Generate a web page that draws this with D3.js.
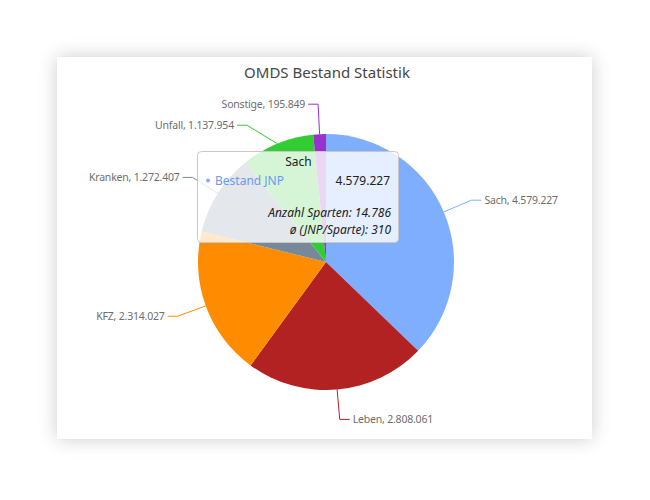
<!DOCTYPE html>
<html>
<head>
<meta charset="utf-8">
<script src="https://cdn.jsdelivr.net/npm/d3@7"></script>
<style>
  html, body { margin: 0; padding: 0; background: #fff; }
  body { width: 650px; height: 500px; position: relative; overflow: hidden; font-family: "Noto Sans", "Open Sans", sans-serif; }
  #card { position: absolute; left: 57px; top: 57px; width: 535px; height: 382px; background: #fff; box-shadow: 0 0 18px rgba(0,0,0,0.2); }
  svg { position: absolute; left: 0; top: 0; }
</style>
</head>
<body>
<div id="card"></div>
<svg id="chart" width="650" height="500"></svg>
<script>
const title = "OMDS Bestand Statistik";
const categories = ["Sach", "Leben", "KFZ", "Kranken", "Unfall", "Sonstige"];
const values = [4579227, 2808061, 2314027, 1272407, 1137954, 195849];
const colors = ["#7faeff", "#b22222", "#ff8c00", "#778899", "#32cd32", "#9932cc"];
const seriesName = "Bestand JNP";
const tooltipCategory = "Sach";
const tooltipSparten = 14786;
const tooltipAvg = 310;

const de = d3.formatLocale({ decimal: ",", thousands: ".", grouping: [3], currency: ["", " €"] });
const fmt = de.format(",d");

const svg = d3.select("#chart");
const cx = 326, cy = 262, R = 128;
const lineLen1 = 30, lineLen2 = 10;

svg.append("text")
  .attr("x", 327).attr("y", 78)
  .attr("text-anchor", "middle")
  .attr("font-size", 15)
  .attr("fill", "#464646")
  .text(title);

const data = categories.map((c, i) => ({ name: c, value: values[i], color: colors[i] }));
const pie = d3.pie().sort(null).value(d => d.value);
const arcs = pie(data);
const arc = d3.arc().innerRadius(0).outerRadius(R);

const g = svg.append("g").attr("transform", `translate(${cx},${cy})`);
g.selectAll("path.slice").data(arcs).enter().append("path")
  .attr("class", "slice")
  .attr("d", arc)
  .attr("fill", d => d.data.color);

// label layout
const labels = arcs.map(a => {
  const mid = (a.startAngle + a.endAngle) / 2;
  const s = Math.sin(mid), c = -Math.cos(mid);
  const p1 = [R * s, R * c];
  const p2 = [(R + lineLen1) * s, (R + lineLen1) * c];
  return { a, mid, side: s >= 0 ? 1 : -1, p1, p2 };
});
const minGap = 21;
[1, -1].forEach(side => {
  const group = labels.filter(l => l.side === side).sort((x, y) => x.p2[1] - y.p2[1]);
  for (let i = 1; i < group.length; i++) {
    const prev = group[i - 1], cur = group[i];
    if (cur.p2[1] - prev.p2[1] < minGap) {
      cur.p2[1] = prev.p2[1] + minGap;
      const rr = R + lineLen1;
      if (Math.abs(cur.p2[1]) < rr) cur.p2[0] = side * Math.sqrt(rr * rr - cur.p2[1] * cur.p2[1]);
    }
  }
});
labels.forEach(l => { l.p3 = [l.p2[0] + l.side * lineLen2, l.p2[1]]; });

g.selectAll("polyline.ll").data(labels).enter().append("polyline")
  .attr("class", "ll")
  .attr("points", l => [l.p1, l.p2, l.p3].map(p => p.join(",")).join(" "))
  .attr("fill", "none")
  .attr("stroke", l => l.a.data.color)
  .attr("stroke-width", 1);

g.selectAll("text.lbl").data(labels).enter().append("text")
  .attr("class", "lbl")
  .attr("x", l => l.p3[0] + l.side * 3)
  .attr("y", l => l.p3[1])
  .attr("dy", "0.35em")
  .attr("text-anchor", l => l.side > 0 ? "start" : "end")
  .attr("font-size", 10.5)
  .attr("letter-spacing", -0.2)
  .attr("fill", "#6e6e6e")
  .text(l => `${l.a.data.name}, ${fmt(l.a.data.value)}`);

// tooltip
const tipVal = values[categories.indexOf(tooltipCategory)];
const tip = svg.append("g").attr("transform", "translate(197,151)");
const tw = 201, th = 91;
tip.append("rect")
  .attr("x", 0.5).attr("y", 0.5).attr("width", tw).attr("height", th)
  .attr("rx", 4)
  .attr("fill", "rgba(255,255,255,0.8)")
  .attr("stroke", "#c8c8c8");
tip.append("text").attr("x", tw / 2 + 1).attr("y", 15).attr("text-anchor", "middle")
  .attr("font-size", 12).attr("fill", "#222").text(tooltipCategory);
tip.append("circle").attr("cx", 11).attr("cy", 29.5).attr("r", 2).attr("fill", colors[0]);
tip.append("text").attr("x", 18).attr("y", 34)
  .attr("font-size", 12).attr("fill", "#6b9af0").text(seriesName);
tip.append("text").attr("x", 193).attr("y", 34).attr("text-anchor", "end")
  .attr("font-size", 12).attr("fill", "#222").text(fmt(tipVal));
tip.append("text").attr("x", 194).attr("y", 66).attr("text-anchor", "end")
  .attr("font-size", 12).attr("font-style", "italic").attr("fill", "#222")
  .text(`Anzahl Sparten: ${fmt(tooltipSparten)}`);
tip.append("text").attr("x", 194).attr("y", 83).attr("text-anchor", "end")
  .attr("font-size", 12).attr("font-style", "italic").attr("fill", "#222")
  .text(`ø (JNP/Sparte): ${fmt(tooltipAvg)}`);
</script>
</body>
</html>
